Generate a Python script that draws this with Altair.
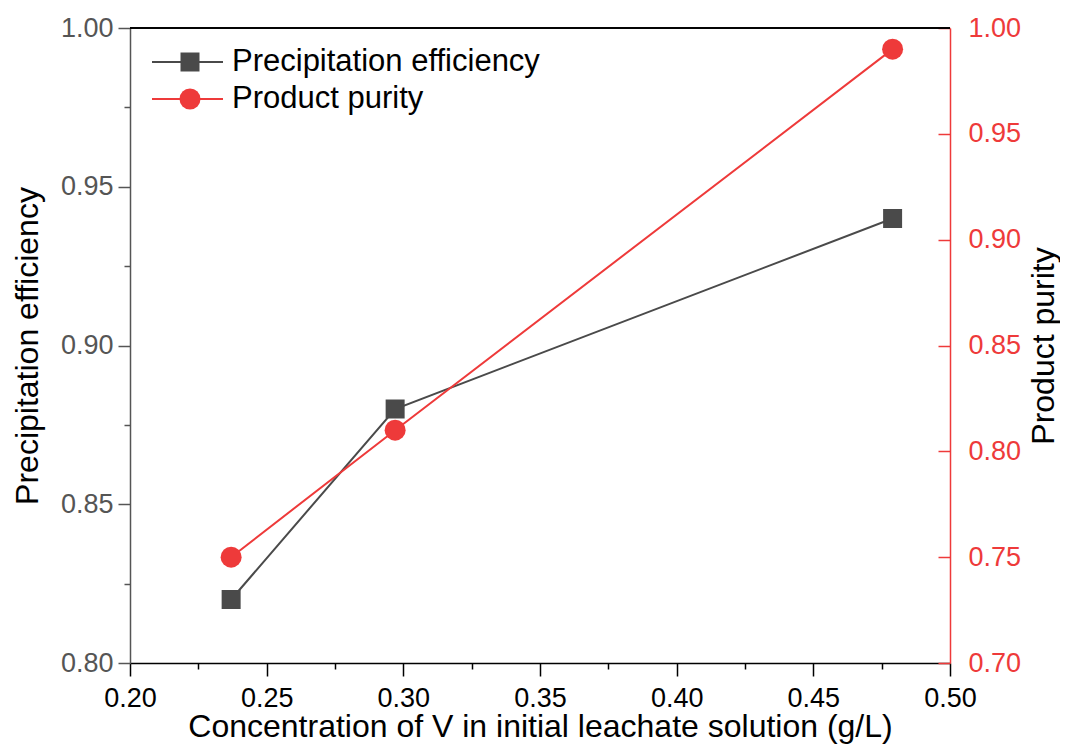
import altair as alt
import pandas as pd

# ---- data ----
conc = [0.237, 0.297, 0.479]
efficiency = [0.82, 0.88, 0.94]
purity = [0.75, 0.81, 0.99]

x_ticks = [0.200, 0.225, 0.250, 0.275, 0.300, 0.325, 0.350, 0.375, 0.400, 0.425, 0.450, 0.475, 0.500]
left_ticks = [0.800, 0.825, 0.850, 0.875, 0.900, 0.925, 0.950, 0.975, 1.000]
right_ticks = [0.70, 0.75, 0.80, 0.85, 0.90, 0.95, 1.00]

series_names = ["Precipitation efficiency", "Product purity"]
series_colors = ["#4a4a4a", "#ee3a3a"]
left_axis_color = "#555555"

x_title = "Concentration of V in initial leachate solution (g/L)"
left_title = "Precipitation efficiency"
right_title = "Product purity"

df = pd.DataFrame({"conc": conc, "eff": efficiency, "pur": purity})

FONT = "Liberation Sans"
W, H = 820, 635
LABEL_FS = 27
TITLE_FS = 32
LEGEND_FS = 31
major_test = "abs(round(datum.value*40)) % 2 == 0"

x_enc = alt.X(
    "conc:Q",
    scale=alt.Scale(domain=[0.2, 0.5], nice=False, zero=False),
    axis=alt.Axis(
        title=x_title,
        values=x_ticks,
        labelExpr=f"({major_test}) ? format(datum.value, '.2f') : ''",
        tickSize={"condition": {"test": major_test, "value": 13}, "value": 6},
        tickWidth=1.5,
        domainWidth=1.5,
        domainColor="#000000",
        tickColor="#000000",
        labelColor="#000000",
        labelFont=FONT,
        labelFontSize=LABEL_FS,
        labelPadding=9,
        labelFlush=False,
        labelOverlap=False,
        labelBound=False,
        titleFont=FONT,
        titleFontSize=TITLE_FS,
        titleFontWeight="normal",
        titleColor="#000000",
        titlePadding=0,
        grid=False,
    ),
)

y_left = alt.Y(
    "eff:Q",
    scale=alt.Scale(domain=[0.8, 1.0], nice=False, zero=False),
    axis=alt.Axis(
        orient="left",
        title=left_title,
        values=left_ticks,
        labelExpr=f"({major_test}) ? format(datum.value, '.2f') : ''",
        tickSize={"condition": {"test": major_test, "value": 12}, "value": 6},
        tickWidth=1.5,
        domainWidth=1.5,
        domainColor=left_axis_color,
        tickColor=left_axis_color,
        labelColor=left_axis_color,
        labelFont=FONT,
        labelFontSize=LABEL_FS,
        labelPadding=5,
        labelOverlap=False,
        labelFlush=False,
        labelBound=False,
        titleFont=FONT,
        titleFontSize=TITLE_FS,
        titleFontWeight="normal",
        titleColor="#000000",
        titlePadding=16,
        grid=False,
    ),
)

y_right = alt.Y(
    "pur:Q",
    scale=alt.Scale(domain=[0.7, 1.0], nice=False, zero=False),
    axis=alt.Axis(
        orient="right",
        title=right_title,
        values=right_ticks,
        format=".2f",
        tickSize=alt.ExprRef(expr="-12"),
        tickWidth=1.5,
        domainWidth=1.5,
        domainColor=series_colors[1],
        tickColor=series_colors[1],
        labelColor=series_colors[1],
        labelFont=FONT,
        labelFontSize=LABEL_FS,
        labelPadding=30,
        labelOverlap=False,
        labelFlush=False,
        labelBound=False,
        titleFont=FONT,
        titleFontSize=TITLE_FS,
        titleFontWeight="normal",
        titleColor="#000000",
        titleAngle=270,
        titlePadding=40,
        grid=False,
    ),
)

base = alt.Chart(df)

eff_line = base.mark_line(color=series_colors[0], strokeWidth=2).encode(x=x_enc, y=y_left)
eff_pts = base.mark_point(shape="square", filled=True, size=361, color=series_colors[0], opacity=1).encode(x=x_enc, y=y_left)
pur_line = base.mark_line(color=series_colors[1], strokeWidth=2).encode(x=x_enc, y=y_right)
pur_pts = base.mark_point(shape="circle", filled=True, size=441, color=series_colors[1], opacity=1).encode(x=x_enc, y=y_right)

eff_layer = alt.layer(eff_line, eff_pts)
pur_layer = alt.layer(pur_line, pur_pts)

# top frame line
top_rule = alt.Chart(df).mark_rule(color="#000000", strokeWidth=1.5).encode(
    x=alt.value(0), x2=alt.value(W), y=alt.value(0)
)

# manual legend (line + marker + label)
legend_layers = []
rows_y = [34, 71]
shapes = ["square", "circle"]
sizes = [361, 441]
for name, col, yy, shp, sz in zip(series_names, series_colors, rows_y, shapes, sizes):
    legend_layers.append(
        alt.Chart(df).mark_rule(color=col, strokeWidth=2).encode(
            x=alt.value(22), x2=alt.value(93), y=alt.value(yy)
        )
    )
    legend_layers.append(
        alt.Chart(pd.DataFrame({"a": [0]})).mark_point(shape=shp, filled=True, size=sz, color=col, opacity=1).encode(
            x=alt.value(60), y=alt.value(yy)
        )
    )
    legend_layers.append(
        alt.Chart(pd.DataFrame({"a": [0]})).mark_text(
            align="left", baseline="middle", font=FONT, fontSize=LEGEND_FS, color="#000000"
        ).encode(x=alt.value(102), y=alt.value(yy), text=alt.value(name))
    )

chart = (
    alt.layer(eff_layer, pur_layer, top_rule, *legend_layers)
    .resolve_scale(y="independent")
    .properties(
        width=W,
        height=H,
        autosize=alt.AutoSizeParams(type="none"),
        padding={"left": 122, "top": 20, "right": 110, "bottom": 81},
        background="#ffffff",
    )
    .configure_view(stroke=None)
)

chart.save("out.html", embed_options={"renderer": "svg", "actions": False})
